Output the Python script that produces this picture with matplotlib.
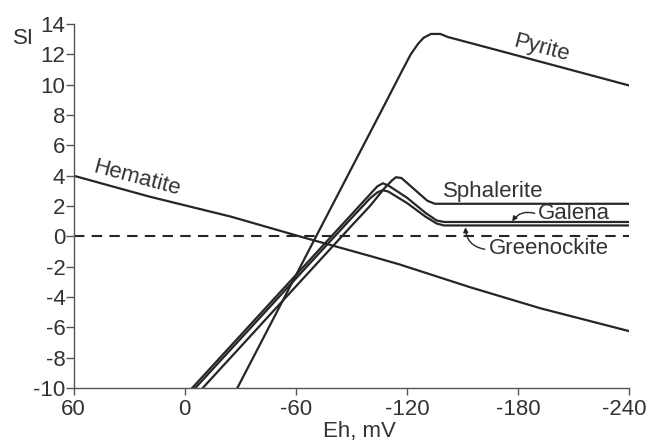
import matplotlib
matplotlib.use("Agg")
import matplotlib.pyplot as plt
import matplotlib.transforms as mtrans

plt.rcParams['font.family'] = ['Liberation Sans', 'DejaVu Sans']
plt.rcParams['axes.unicode_minus'] = False

# Eh (mV) / saturation index values
hem_eh = [60, 19, -25, -62, -100, -116, -154, -192, -240]
hem_si = [4.0, 2.62, 1.3, 0.0, -1.29, -1.85, -3.35, -4.74, -6.25]

pyr_eh = [-28.4, -60, -90, -107, -117, -122, -126, -129, -133, -138, -142, -170, -200, -240]
pyr_si = [-10.0, -2.57, 4.48, 8.47, 10.84, 12.0, 12.7, 13.1, 13.35, 13.35, 13.15, 12.24, 11.26, 9.95]

sph_eh = [-9.7, -30, -60, -90, -100, -108, -112, -114, -117, -124, -131, -135, -240]
sph_si = [-10.0, -7.3, -3.3, 0.69, 2.0, 3.2, 3.7, 3.9, 3.85, 3.1, 2.35, 2.15, 2.15]

gal_eh = [-4.0, -30, -60, -90, -100, -104, -107, -110, -120, -130, -136, -140, -240]
gal_si = [-10.0, -6.54, -2.55, 1.44, 2.77, 3.3, 3.5, 3.35, 2.55, 1.55, 1.05, 0.95, 0.95]

grn_eh = [-5.7, -30, -60, -90, -100, -104, -107, -110, -120, -130, -136, -140, -240]
grn_si = [-10.0, -6.77, -2.78, 1.2, 2.5, 2.9, 3.05, 2.95, 2.2, 1.3, 0.85, 0.72, 0.72]

xticks = [60, 0, -60, -120, -180, -240]
yticks = list(range(-10, 15, 2))

lc = '#262626'
tc = '#333333'
fs = 16

fig = plt.figure(figsize=(6.46, 4.46), dpi=100)
ax = fig.add_axes([0.114, 0.130, 0.860, 0.816])

for xs, ys in [(hem_eh, hem_si), (pyr_eh, pyr_si), (sph_eh, sph_si),
               (gal_eh, gal_si), (grn_eh, grn_si)]:
    ax.plot(xs, ys, color=lc, lw=1.6, solid_joinstyle='round')

ax.plot([60, -240], [0, 0], color=lc, lw=1.5, ls=(0, (5, 3.5)))

ax.set_xlim(60, -240)
ax.set_ylim(-10, 14)
ax.set_xticks(xticks)
ax.set_yticks(yticks)
ax.spines['top'].set_visible(False)
ax.spines['right'].set_visible(False)
for s in ['left', 'bottom']:
    ax.spines[s].set_color('#555555')
    ax.spines[s].set_linewidth(1.0)
ax.tick_params(colors='#555555', labelcolor=tc, labelsize=fs, length=5, width=1.0)
ax.tick_params(axis='y', pad=0, length=6)
ax.tick_params(axis='x', pad=3)

# the last x label sits a little inside the figure edge
last = ax.get_xticklabels()[-1]
last.set_transform(last.get_transform() +
                   mtrans.ScaledTranslation(-5 / 100, 0, fig.dpi_scale_trans))

ax.set_xlabel('Eh, mV', fontsize=fs, color=tc)
ax.xaxis.set_label_coords(0.515, -0.09)
ax.text(-0.091, 0.96, 'SI', transform=ax.transAxes, fontsize=fs, color=tc,
        ha='center', va='center')

# curve labels
ax.text(25.7, 3.85, 'Hematite', fontsize=fs, color=tc, rotation=-15,
        ha='center', va='center', rotation_mode='anchor')
ax.text(-192.7, 12.42, 'Pyrite', fontsize=fs, color=tc, rotation=-15,
        ha='center', va='center', rotation_mode='anchor')
ax.text(-166.8, 2.95, 'Sphalerite', fontsize=fs, color=tc, ha='center', va='center')
ax.text(-210.2, 1.54, 'Galena', fontsize=fs, color=tc, ha='center', va='center')
ax.text(-196.6, -0.83, 'Greenockite', fontsize=fs, color=tc, ha='center', va='center')

ax.annotate('', xy=(-176.8, 0.99), xytext=(-189.0, 1.52),
            arrowprops=dict(arrowstyle='-|>', color=lc, lw=1.0,
                            mutation_scale=7, shrinkA=0, shrinkB=0,
                            connectionstyle='arc3,rad=0.35'))
ax.annotate('', xy=(-151.6, 0.6), xytext=(-162.0, -0.85),
            arrowprops=dict(arrowstyle='-|>', color=lc, lw=1.0,
                            mutation_scale=7, shrinkA=0, shrinkB=0,
                            connectionstyle='arc3,rad=-0.4'))

fig.savefig('out.png', dpi=100)
